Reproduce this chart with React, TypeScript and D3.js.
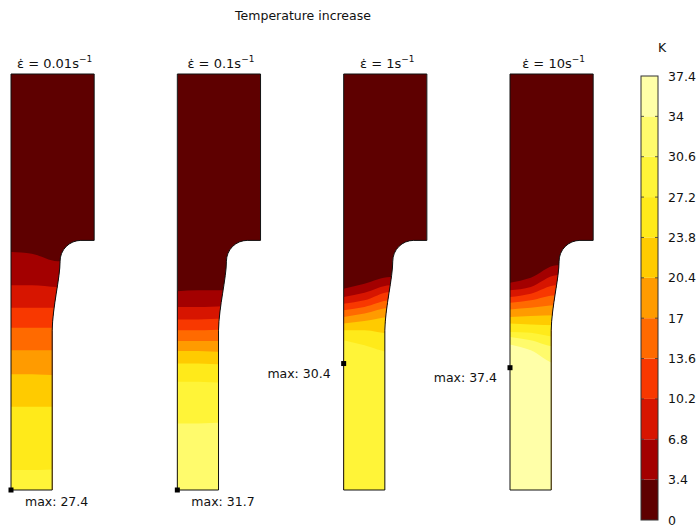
import * as d3 from 'd3';

// colour levels of the temperature increase (K)
const levels = [0, 3.4, 6.8, 10.2, 13.6, 17, 20.4, 23.8, 27.2, 30.6, 34, 37.4];
const levelColors = ['#5e0000', '#a30000', '#d71500', '#f83800', '#ff6a00', '#ff9b00', '#ffcb00', '#ffea1a', '#fff438', '#fffb6c', '#ffffa8'];

const rates = ['0.01', '0.1', '1', '10'];
const maxValues = [27.4, 31.7, 30.4, 37.4];
const maxHeights = [0, 0, 15.2, 14.7]; // mm above the bottom, on the left edge

// specimen geometry (mm)
const totalHeight = 50;
const wideWidth = 10;
const shoulderHeight = 30;
const narrowWidth = 4.95;
const filletRadius = 2.5;
const filletCentre = [8.4, 27.5];
const taperEnd = 19.2;

// isotherm heights (mm above bottom) at left edge, middle, right edge of the gauge
const stations = [0, 2.5, 5.6, 10];
const bounds001 = [
  [28.6, 28.4, 27.5], [24.6, 24.6, 24.4], [21.9, 21.9, 21.9], [19.5, 19.5, 19.5],
  [16.8, 16.8, 16.8], [13.9, 13.9, 13.8], [10.0, 10.0, 10.0], [2.4, 2.4, 2.5],
];
const bounds01 = [
  [23.9, 24.0, 24.0], [22.0, 22.0, 22.1], [20.5, 20.5, 20.6], [19.2, 19.2, 19.3],
  [17.9, 17.9, 17.9], [16.7, 16.7, 16.6], [15.2, 15.2, 15.1], [13.0, 13.0, 12.9], [8.0, 8.0, 8.1],
];
const bounds1 = [
  [24.2, 24.8, 25.6], [23.2, 23.7, 24.6], [22.4, 22.8, 23.8], [21.6, 22.0, 22.8],
  [20.8, 21.2, 21.9], [20.0, 20.3, 20.8], [19.2, 19.2, 18.8], [18.0, 17.4, 16.6],
];
const bounds10 = [
  [24.9, 25.5, 27.0], [24.0, 24.4, 25.8], [23.2, 23.6, 24.6], [22.5, 22.8, 23.4],
  [21.7, 21.9, 22.2], [20.8, 20.9, 21.0], [20.0, 19.9, 19.8], [19.0, 18.9, 18.4],
  [18.4, 18.0, 17.2], [17.5, 16.8, 15.2],
];
const allBounds = [bounds001, bounds01, bounds1, bounds10];

const W = 696;
const H = 526;
const font = '"DejaVu Sans", Verdana, sans-serif';

const App = () => {
  const pxPerMm = 8.32;
  const yTop = 74;
  const y = d3.scaleLinear().domain([0, totalHeight]).range([yTop + totalHeight * pxPerMm, yTop]);
  const left = d3.scaleLinear().domain([0, rates.length - 1]).range([11, 510]);

  const cb = d3.scaleLinear().domain([0, 37.4]).range([520, 76]);
  const cbX = 641;
  const cbW = 17;

  return (
    <svg width={W} height={H} style={{ position: 'absolute', left: 0, top: 0 }} fontFamily={font}>
      <rect width={W} height={H} fill="#fff" />
      <text x={303} y={15} textAnchor="middle" dominantBaseline="central" fontSize={12.5} fill="#111">
        Temperature increase
      </text>

      {rates.map((rate, i) => {
        const x = d3.scaleLinear().domain([0, wideWidth]).range([left(i), left(i) + wideWidth * pxPerMm]);
        const [cx, cy] = filletCentre;
        const neckX = cx - filletRadius;
        const p = d3.path();
        p.moveTo(x(0), y(0));
        p.lineTo(x(0), y(totalHeight));
        p.lineTo(x(wideWidth), y(totalHeight));
        p.lineTo(x(wideWidth), y(shoulderHeight));
        p.lineTo(x(cx), y(shoulderHeight));
        p.arc(x(cx), y(cy), filletRadius * pxPerMm, -Math.PI / 2, -Math.PI, true);
        p.bezierCurveTo(x(neckX), y(cy - 2), x(narrowWidth + 0.05), y(taperEnd + 2.8), x(narrowWidth), y(taperEnd));
        p.lineTo(x(narrowWidth), y(0));
        p.closePath();
        const outline = p.toString();

        const area = d3.area<number>()
          .x((_, k) => x(stations[k]))
          .y0(y(0))
          .curve(d3.curveMonotoneX);
        const bounds = allBounds[i];
        const clipId = `clip-${i}`;
        const mx = x(0);
        const my = y(maxHeights[i]);
        const labelLeft = maxHeights[i] > 0;
        return (
          <g key={rate}>
            <clipPath id={clipId}>
              <path d={outline} />
            </clipPath>
            <g clipPath={`url(#${clipId})`}>
              <rect x={x(0)} y={y(totalHeight)} width={x(wideWidth) - x(0)} height={y(0) - y(totalHeight)} fill={levelColors[0]} />
              {bounds.map((b, k) => {
                const pts = [...b, b[2]];
                return <path key={k} d={area.y1((v) => y(v))(pts) as string} fill={levelColors[k + 1]} />;
              })}
            </g>
            <path d={outline} fill="none" stroke="#111" strokeWidth={1} />
            <text x={x(wideWidth / 2) + 2} y={68} textAnchor="middle" fontSize={13} fill="#111">
              <tspan>ε̇</tspan>
              <tspan> = {rate}s</tspan>
              <tspan dy={-6} fontSize={9}>−1</tspan>
            </text>
            <rect x={mx - 2.5} y={my - 2.5} width={5} height={5} fill="#000" />
            <text
              x={labelLeft ? mx - 13 : mx + 14}
              y={labelLeft ? my + 10 : my + 11}
              textAnchor={labelLeft ? 'end' : 'start'}
              dominantBaseline="central"
              fontSize={12.5}
              fill="#111"
            >
              max: {maxValues[i]}
            </text>
          </g>
        );
      })}

      {/* colour legend */}
      <text x={662} y={47} textAnchor="middle" dominantBaseline="central" fontSize={12.5} fill="#111">K</text>
      {levelColors.map((c, k) => (
        <rect key={k} x={cbX} y={cb(levels[k + 1])} width={cbW} height={cb(levels[k]) - cb(levels[k + 1])} fill={c} />
      ))}
      {levels.slice(1, -1).map((v) => (
        <g key={v}>
          <line x1={cbX} x2={cbX + 3} y1={cb(v)} y2={cb(v)} stroke="#333" strokeWidth={0.8} />
          <line x1={cbX + cbW - 3} x2={cbX + cbW} y1={cb(v)} y2={cb(v)} stroke="#333" strokeWidth={0.8} />
        </g>
      ))}
      <rect x={cbX} y={cb(37.4)} width={cbW} height={cb(0) - cb(37.4)} fill="none" stroke="#333" strokeWidth={1} />
      {levels.map((v) => (
        <text key={v} x={668} y={cb(v)} dominantBaseline="central" fontSize={12.5} fill="#111">
          {v}
        </text>
      ))}
    </svg>
  );
};

export default App;
